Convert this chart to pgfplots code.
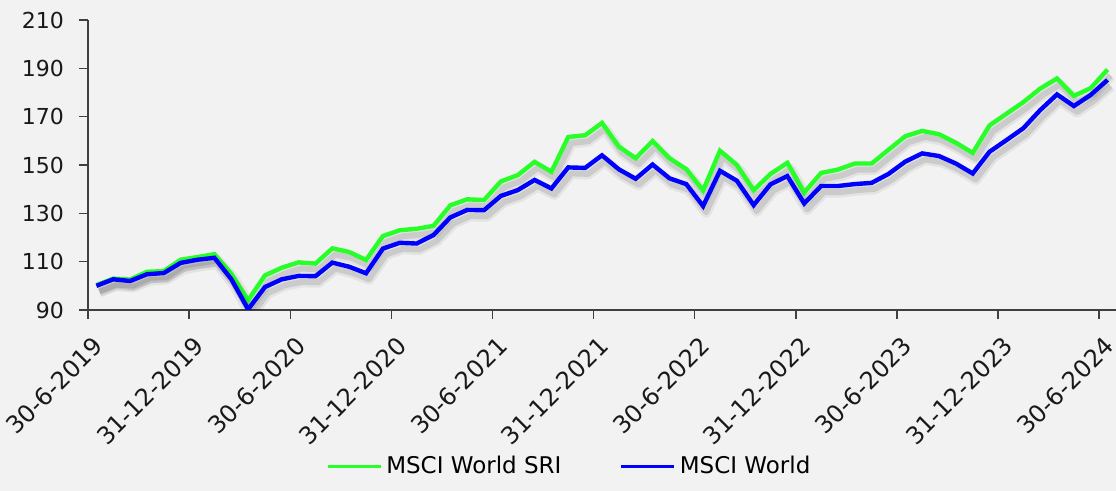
\documentclass[border=0pt]{standalone}
\usepackage{fontspec}
\setmainfont{DejaVu Sans}
\usepackage{pgfplots}
\pgfplotsset{compat=1.18}
\usepackage{pgfplotstable}

\definecolor{fondo}{RGB}{242,242,242}
\definecolor{verde}{RGB}{40,255,40}
\definecolor{azul}{RGB}{0,0,255}
\definecolor{eje}{RGB}{64,64,64}

% mese  sri  world
\pgfplotstableread{
m   sri    world
0   100.3  100.0
1   103.0  102.7
2   102.6  102.0
3   105.8  104.8
4   106.1  105.3
5   110.8  109.5
6   111.9  110.8
7   113.1  111.6
8   105.1  102.8
9   94.0   90.3
10  104.3  99.5
11  107.5  102.7
12  109.7  104.1
13  109.2  104.0
14  115.5  109.6
15  114.0  107.9
16  110.7  105.2
17  120.6  115.4
18  123.0  117.8
19  123.6  117.5
20  124.8  121.0
21  133.3  128.3
22  135.8  131.4
23  135.5  131.3
24  143.2  137.2
25  145.8  139.6
26  151.3  143.8
27  147.2  140.3
28  161.6  149.0
29  162.3  148.8
30  167.4  154.0
31  157.6  148.2
32  152.8  144.3
33  159.9  150.2
34  152.8  144.5
35  148.3  142.1
36  139.5  133.0
37  155.9  147.6
38  150.0  143.5
39  139.6  133.4
40  146.3  142.0
41  150.9  145.4
42  138.6  134.1
43  146.7  141.3
44  148.1  141.3
45  150.6  142.1
46  150.6  142.6
47  156.3  146.3
48  161.9  151.4
49  164.1  154.8
50  162.7  153.7
51  159.2  150.6
52  155.0  146.5
53  166.4  155.5
54  171.2  160.3
55  176.0  165.2
56  181.6  172.7
57  185.8  179.2
58  178.6  174.4
59  181.8  179.0
60  189.5  185.2
}\datos

\begin{document}
\begin{tikzpicture}
% sfondo grigio = area della pagina
\fill[fondo] (-44pt,-90.5pt) rectangle (514pt,155pt);
\useasboundingbox (-44pt,-90.5pt) rectangle (514pt,155pt);

\begin{axis}[
    at={(0,0)}, anchor=south west,
    scale only axis,
    width=514pt, height=145pt,
    xmin=-0.5, xmax=60.5,
    ymin=90, ymax=210,
    axis x line*=bottom,
    axis y line*=left,
    axis line style={eje, line width=0.7pt},
    tick style={eje, line width=0.7pt},
    tick align=outside,
    major tick length=4.5pt,
    ytick={90,110,...,210},
    xtick={-0.5,5.5,...,59.5},
    xticklabels={30-6-2019,31-12-2019,30-6-2020,31-12-2020,30-6-2021,31-12-2021,30-6-2022,31-12-2022,30-6-2023,31-12-2023,30-6-2024},
    /pgf/number format/assume math mode=true,
    yticklabel style={font=\fontsize{11}{13}\selectfont, text=black!90, xshift=-4pt},
    xticklabel style={font=\fontsize{12}{14}\selectfont, text=black!90,
        xshift=2pt, yshift=-8pt, rotate=45, anchor=north east, inner sep=0pt},
    legend style={at={(0.469,-0.54)}, anchor=center, draw=none, fill=none,
        font=\fontsize{11.5}{13}\selectfont, legend columns=2,
        /tikz/every even column/.append style={column sep=27pt}},
    legend image code/.code={\draw[#1, line width=1.7pt] (0pt,0pt) -- (26.5pt,0pt);},
]
% ombre
\addplot[forget plot, black, opacity=0.06, line width=5.5pt, line join=round, shift={(1.5pt,-3pt)}] table[x=m, y=sri] {\datos};
\addplot[forget plot, black, opacity=0.10, line width=3pt, line join=round, shift={(1.5pt,-3pt)}] table[x=m, y=sri] {\datos};
\addplot[verde, line width=2.2pt, line join=miter] table[x=m, y=sri] {\datos};
\addlegendentry{MSCI World SRI}
\addplot[forget plot, black, opacity=0.06, line width=5.5pt, line join=round, shift={(1.5pt,-3pt)}] table[x=m, y=world] {\datos};
\addplot[forget plot, black, opacity=0.10, line width=3pt, line join=round, shift={(1.5pt,-3pt)}] table[x=m, y=world] {\datos};
\addplot[azul, line width=2.2pt, line join=miter] table[x=m, y=world] {\datos};
\addlegendentry{MSCI World}
\end{axis}
\end{tikzpicture}
\end{document}
